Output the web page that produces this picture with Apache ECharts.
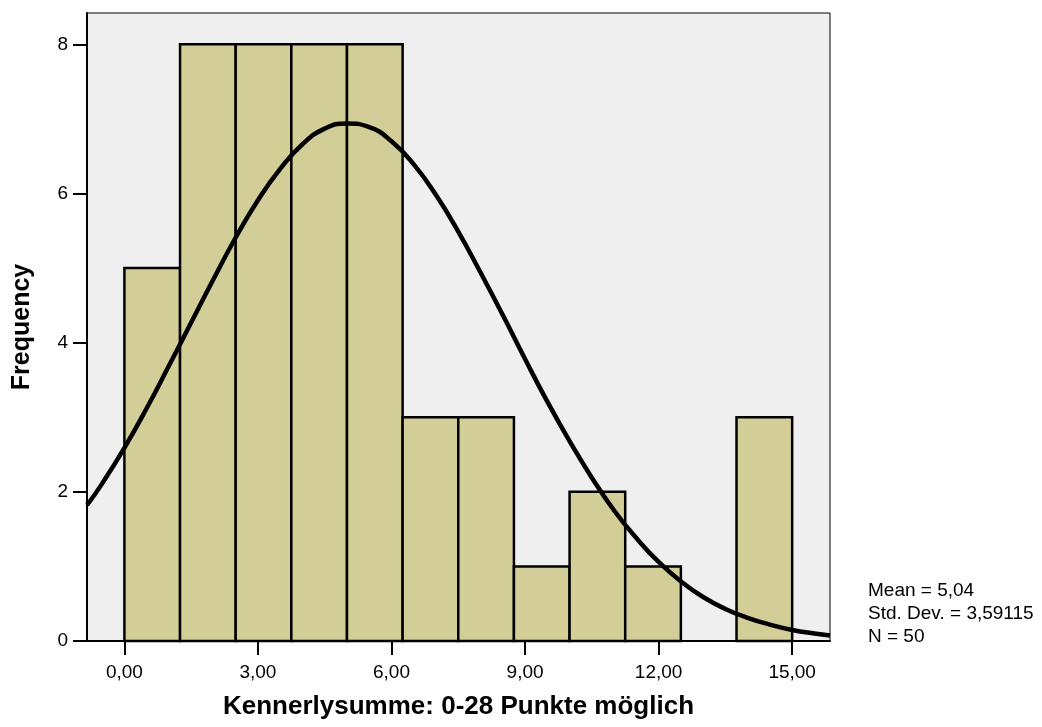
<!DOCTYPE html>
<html>
<head>
<meta charset="utf-8">
<script src="https://cdn.jsdelivr.net/npm/echarts@6/dist/echarts.min.js"></script>
<style>html,body{margin:0;padding:0;background:#fff;}#c{width:1042px;height:727px;}</style>
</head>
<body>
<div id="c"></div>
<script>
// Histogram bins: [start, end]
var binStarts = [0, 1.25, 2.5, 3.75, 5, 6.25, 7.5, 8.75, 10, 11.25, 12.5, 13.75];
var binEnds   = [1.25, 2.5, 3.75, 5, 6.25, 7.5, 8.75, 10, 11.25, 12.5, 13.75, 15];
var counts    = [5, 8, 8, 8, 8, 3, 3, 1, 2, 1, 0, 3];

// Normal curve
var curveX = [-0.84, -0.5, 0, 0.5, 1, 1.5, 2, 2.5, 3, 3.5, 4, 4.5, 5, 5.5, 6, 6.5, 7, 7.5, 8, 8.5, 9, 9.5, 10, 10.5, 11, 11.5, 12, 12.5, 13, 13.5, 14, 14.5, 15, 15.5, 15.85];
var curveY = [1.82, 2.11, 2.59, 3.12, 3.69, 4.27, 4.85, 5.41, 5.91, 6.33, 6.66, 6.87, 6.94, 6.89, 6.70, 6.39, 5.98, 5.49, 4.94, 4.37, 3.78, 3.21, 2.68, 2.19, 1.75, 1.38, 1.06, 0.80, 0.59, 0.43, 0.31, 0.22, 0.148, 0.10, 0.075];

var xTicks = [0, 3, 6, 9, 12, 15];
var yTicks = [0, 2, 4, 6, 8];
var statLines = ['Mean = 5,04', 'Std. Dev. = 3,59115', 'N = 50'];
var xTitle = 'Kennerlysumme: 0-28 Punkte möglich';
var yTitle = 'Frequency';

var barData = binStarts.map(function (s, i) { return [s, binEnds[i], counts[i]]; });
var curveData = curveX.map(function (x, i) { return [x, curveY[i]]; });

var font = '"Liberation Sans", Arial, sans-serif';
var chart = echarts.init(document.getElementById('c'), null, {renderer: 'canvas'});
chart.setOption({
  backgroundColor: '#ffffff',
  animation: false,
  grid: {
    left: 87, right: 212, top: 13, bottom: 86,
    show: true, backgroundColor: '#efefef', borderColor: '#000', borderWidth: 1
  },
  xAxis: {
    type: 'value', min: -0.84, max: 15.85,
    name: xTitle, nameLocation: 'middle', nameGap: 53,
    nameTextStyle: {fontFamily: font, fontSize: 26, fontWeight: 'bold', color: '#000'},
    axisLine: {show: true, onZero: false, lineStyle: {color: '#000', width: 2}},
    axisTick: {show: true, customValues: xTicks, length: 14, lineStyle: {color: '#000', width: 2}},
    axisLabel: {customValues: xTicks, margin: 22, fontFamily: font, fontSize: 19, color: '#000',
      formatter: function (v) { return v.toFixed(2).replace('.', ','); }},
    splitLine: {show: false}
  },
  yAxis: {
    type: 'value', min: 0, max: 8.42,
    name: yTitle, nameLocation: 'middle', nameGap: 52, nameRotate: 90,
    nameTextStyle: {fontFamily: font, fontSize: 25, fontWeight: 'bold', color: '#000'},
    axisLine: {show: true, onZero: false, lineStyle: {color: '#000', width: 2}},
    axisTick: {show: true, customValues: yTicks, length: 14, lineStyle: {color: '#000', width: 2}},
    axisLabel: {customValues: yTicks, margin: 19, fontFamily: font, fontSize: 19, color: '#000'},
    splitLine: {show: false}
  },
  series: [
    {
      type: 'custom',
      data: barData,
      encode: {x: [0, 1], y: 2},
      renderItem: function (params, api) {
        var p0 = api.coord([api.value(0), 0]);
        var p1 = api.coord([api.value(1), api.value(2)]);
        if (api.value(2) <= 0) return null;
        return {
          type: 'rect',
          shape: {x: p0[0], y: p1[1], width: p1[0] - p0[0], height: p0[1] - p1[1]},
          style: {fill: '#d3ce97', stroke: '#000', lineWidth: 2.5}
        };
      },
      z: 2
    },
    {
      type: 'line',
      data: curveData,
      smooth: true,
      symbol: 'none',
      lineStyle: {color: '#000', width: 4.5},
      z: 3
    }
  ],
  graphic: [{
    type: 'text', left: 868, top: 579,
    style: {text: statLines.join('\n'), font: '19px ' + font, lineHeight: 23, fill: '#000'}
  }]
});
</script>
</body>
</html>
